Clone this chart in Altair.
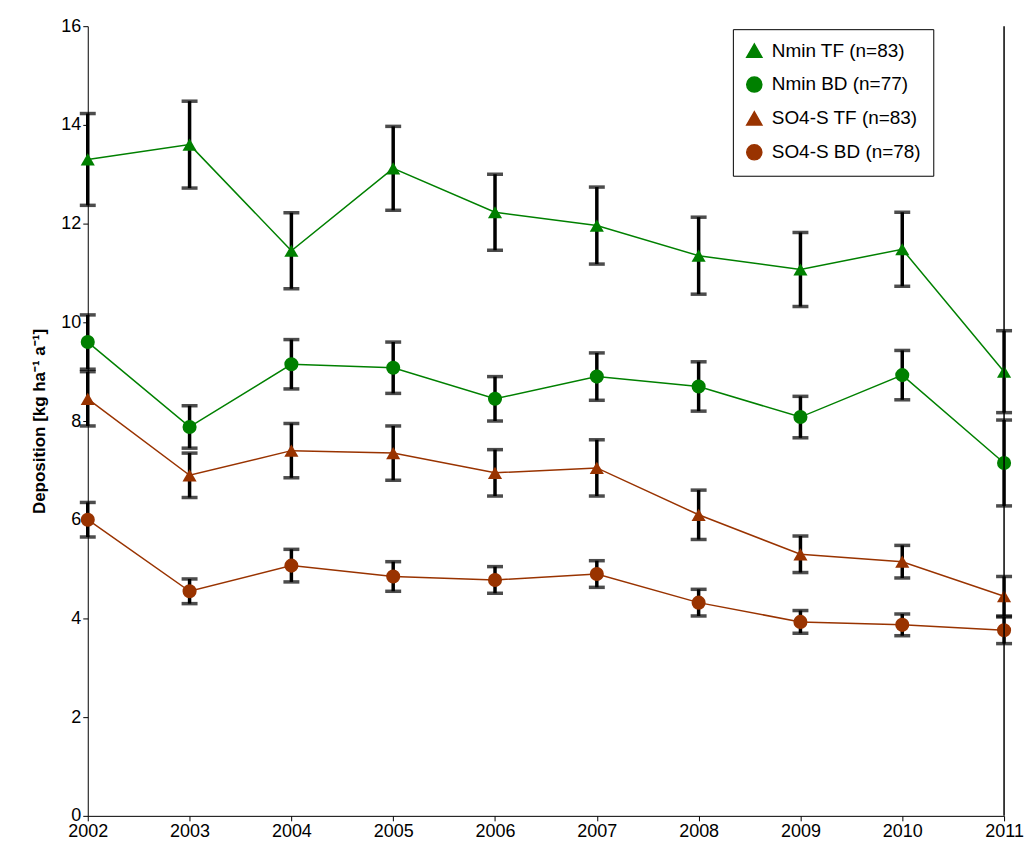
import altair as alt
import pandas as pd

years = list(range(2002, 2012))
series = ["Nmin TF (n=83)", "Nmin BD (n=77)", "SO4-S TF (n=83)", "SO4-S BD (n=78)"]
nmin_tf = [13.3, 13.6, 11.45, 13.12, 12.23, 11.96, 11.35, 11.07, 11.48, 9.0]
nmin_tf_err = [0.93, 0.88, 0.77, 0.85, 0.77, 0.78, 0.78, 0.75, 0.75, 0.83]
nmin_bd = [9.6, 7.88, 9.15, 9.08, 8.45, 8.9, 8.7, 8.08, 8.93, 7.15]
nmin_bd_err = [0.55, 0.43, 0.5, 0.52, 0.45, 0.48, 0.5, 0.42, 0.5, 0.87]
so4_tf = [8.45, 6.9, 7.4, 7.35, 6.95, 7.05, 6.1, 5.3, 5.15, 4.45]
so4_tf_err = [0.55, 0.45, 0.55, 0.55, 0.47, 0.57, 0.5, 0.37, 0.33, 0.4]
so4_bd = [6.0, 4.55, 5.07, 4.85, 4.78, 4.9, 4.32, 3.93, 3.87, 3.76]
so4_bd_err = [0.35, 0.25, 0.33, 0.3, 0.27, 0.27, 0.27, 0.23, 0.22, 0.27]

rows = []
for name, vals, errs in zip(series, [nmin_tf, nmin_bd, so4_tf, so4_bd],
                            [nmin_tf_err, nmin_bd_err, so4_tf_err, so4_bd_err]):
    for yr, v, e in zip(years, vals, errs):
        rows.append({"year": yr, "series": name, "value": v, "lo": v - e, "hi": v + e})
df = pd.DataFrame(rows)

font = "Liberation Sans"
x = alt.X("year:Q", title=None, scale=alt.Scale(domain=[2002, 2011], nice=False),
          axis=alt.Axis(format="d", values=years, grid=False, labelFontSize=18,
                        labelColor="black", domainColor="black", tickColor="black",
                        labelFont=font, labelFlush=False))
color = alt.Color("series:N", sort=series,
                  scale=alt.Scale(domain=series, range=["#008000", "#008000", "#993300", "#993300"]),
                  legend=alt.Legend(title=None, orient="none", legendX=647, legendY=3,
                                    labelFontSize=19, labelFont=font, labelColor="black",
                                    symbolSize=230, strokeColor="black", padding=12,
                                    rowPadding=12, fillColor="white", labelLimit=300,
                                    labelOffset=8))
shape = alt.Shape("series:N", sort=series,
                  scale=alt.Scale(domain=series, range=["triangle-up", "circle", "triangle-up", "circle"]))

base = alt.Chart(df)
lines = base.mark_line(strokeWidth=1.5).encode(
    x=x,
    y=alt.Y("value:Q", title="Deposition [kg ha⁻¹ a⁻¹]",
            scale=alt.Scale(domain=[0, 16]),
            axis=alt.Axis(values=list(range(0, 17, 2)), grid=False, labelFontSize=18,
                          labelColor="black", titleFontSize=17, titleFont=font,
                          labelFont=font, domainColor="black", tickColor="black",
                          titleColor="black", titlePadding=12)),
    color=color,
    detail="series:N",
)
bars = base.mark_rule(color="black", strokeWidth=3.5).encode(x="year:Q", y="lo:Q", y2="hi:Q")
cap_lo = base.mark_tick(color="black", thickness=3.5, size=16, orient="horizontal").encode(x="year:Q", y="lo:Q")
cap_hi = base.mark_tick(color="black", thickness=3.5, size=16, orient="horizontal").encode(x="year:Q", y="hi:Q")
points = base.mark_point(filled=True, size=200, opacity=1).encode(x="year:Q", y="value:Q", color=color, shape=shape)
right = alt.Chart(pd.DataFrame({"year": [2011]})).mark_rule(color="black", strokeWidth=1.5).encode(x="year:Q")

chart = (lines + bars + cap_lo + cap_hi + points + right).properties(
    width=919, height=792, padding={"left": 80, "top": 17, "right": 22, "bottom": 30},
    autosize=alt.AutoSizeParams(type="none"),
).configure_view(stroke=None)

chart.save("out.html", embed_options={"renderer": "svg", "actions": False})
